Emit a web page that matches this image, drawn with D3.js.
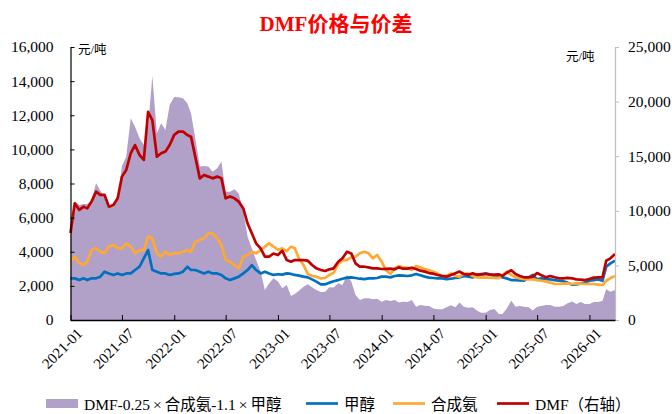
<!DOCTYPE html>
<html>
<head>
<meta charset="utf-8">
<script src="https://cdn.jsdelivr.net/npm/d3@7"></script>
<style>
  html, body { margin: 0; padding: 0; background: #fff; }
  svg { display: block; }
  text { font-family: "Liberation Serif", "Times New Roman", "Noto Sans CJK SC", serif; }
</style>
</head>
<body>
<svg id="chart" width="672" height="414"></svg>
<script>
// Semi-monthly sampling: 2021-01-01 ... 2026-04-01 (1st and 16th of each month)
const dates = [];
for (let y = 2021; y <= 2026; y++) {
  for (let mo = 0; mo < 12; mo++) {
    if (y === 2026 && mo > 3) break;
    dates.push(new Date(y, mo, 1));
    if (!(y === 2026 && mo === 3)) dates.push(new Date(y, mo, 16));
  }
}

// 甲醇 (元/吨, left axis)
const methanol = [
  2440,2440,2340,2440,2340,2440,2440,2540,2830,2730,2640,2730,
  2640,2730,2730,2930,3130,3610,4100,2930,2830,2730,2730,2640,
  2700,2730,2830,3120,2930,2930,2830,2730,2830,2730,2730,2640,
  2440,2340,2440,2540,2730,2930,3220,2930,2730,2830,2730,2640,
  2680,2660,2730,2700,2640,2600,2540,2500,2380,2250,2090,2090,
  2190,2270,2340,2420,2480,2500,2460,2420,2400,2440,2440,2460,
  2540,2540,2500,2580,2620,2600,2580,2620,2700,2620,2540,2480,
  2460,2440,2440,2400,2420,2460,2500,2580,2540,2500,2580,2660,
  2730,2660,2580,2560,2500,2440,2340,2340,2320,2300,2500,2640,
  2380,2440,2400,2380,2340,2300,2270,2190,2070,2090,2130,2190,
  2300,2340,2380,2300,3120,3320,3480
];

// 合成氨 (元/吨, left axis)
const ammonia = [
  3420,3710,3320,3220,3420,4100,4200,4000,3910,4300,4400,4200,
  4200,4490,4300,3910,4100,4100,4880,4790,3910,3710,4000,3810,
  3930,3910,4000,4100,4000,4590,4690,4790,5080,5080,4790,4400,
  3520,3420,3220,3030,3710,3810,4000,3910,4100,4300,4490,4300,
  4120,4200,4040,4300,4200,3610,3220,2700,2580,2540,2440,2460,
  2640,2770,3280,3480,3520,3670,3710,3910,4000,3910,3610,3810,
  3420,2910,2700,3030,3160,3090,3050,2930,3160,3090,2990,2910,
  2830,2720,2580,2600,2730,2580,2540,2700,2720,2580,2500,2480,
  2500,2480,2470,2450,2640,2830,2640,2500,2440,2400,2380,2380,
  2340,2300,2250,2190,2110,2110,2130,2150,2110,2150,2130,2110,
  2110,2110,2070,2050,2300,2460,2580
];

// DMF (元/吨, right axis)
const dmf = [
  7970,10690,10080,10380,10220,10840,11750,11450,11450,10380,10530,11140,
  13130,13730,15270,16020,15110,14660,19060,18310,14950,15270,15420,16020,
  16950,17250,17250,16940,16790,14950,12970,13280,13130,12970,13130,12970,
  11140,11300,11140,10840,10220,8850,7940,7020,6560,5800,5800,6090,
  5950,6350,5490,5340,5490,5490,5490,5430,5040,4730,4580,4490,
  4640,4730,5340,5650,6260,6100,5190,4880,4880,4820,4730,4730,
  4670,4690,4700,4640,4820,4700,4700,4790,4670,4520,4430,4300,
  4240,4120,4030,3970,4120,4270,4430,4210,4150,4270,4150,4210,
  4210,4180,4160,4180,4030,4330,4550,4210,4030,3910,3910,3970,
  4300,4090,3910,4030,3910,3820,3820,3850,3820,3720,3690,3660,
  3750,3880,3910,3910,5430,5650,6040
];

// DMF-0.25×合成氨-1.1×甲醇 (元/吨, left axis)
const spread = [
  4900,6940,6740,6800,6800,7030,8010,7580,7230,6640,6640,7030,
  9030,9570,11820,11330,10650,10260,11330,14300,10940,11530,11140,12600,
  13070,13050,12990,12700,12110,10650,8990,9030,8990,8690,8890,9280,
  7520,7520,7660,7420,6350,4890,4200,3520,2830,1760,2150,2440,
  2250,1860,2050,1410,1520,1720,1950,2090,1920,1760,1640,1660,
  1920,1900,2150,2050,2640,2250,1470,1170,1270,1270,1210,1250,
  1070,1170,1110,1170,1020,1070,1060,1170,780,880,840,820,
  680,630,630,740,860,740,1020,780,720,740,550,430,
  430,590,650,350,350,680,1130,780,820,780,740,550,
  780,820,880,880,780,780,820,980,1090,940,1060,940,
  940,1060,1060,1130,1800,1660,1760
];

const leftTicks = [0, 2000, 4000, 6000, 8000, 10000, 12000, 14000, 16000];
const rightTicks = [0, 5000, 10000, 15000, 20000, 25000];
const titleText = "DMF价格与价差";
const unitText = "元/吨";
const legendItems = [
  { label: "DMF-0.25×合成氨-1.1×甲醇", color: "#b1a0c7", kind: "area" },
  { label: "甲醇", color: "#0070c0", kind: "line" },
  { label: "合成氨", color: "#ffa933", kind: "line" },
  { label: "DMF（右轴）", color: "#c00000", kind: "line" }
];

const svg = d3.select("#chart");
const plot = { left: 70.5, right: 615, top: 47, bottom: 320 };
const axisFont = "Liberation Serif, Times New Roman, serif";

const x = d3.scaleTime()
  .domain([new Date(2021, 0, 1), new Date(2026, 3, 1)])
  .range([plot.left, plot.right]);
const yL = d3.scaleLinear().domain([0, 16000]).range([plot.bottom, plot.top]);
const yR = d3.scaleLinear().domain([0, 25000]).range([plot.bottom, plot.top]);

// Title
svg.append("text")
  .attr("x", 336).attr("y", 31)
  .attr("text-anchor", "middle")
  .attr("fill", "#ff0000")
  .attr("font-size", 21)
  .attr("font-weight", "bold")
  .text(titleText);

// Spread area
const area = d3.area()
  .x((d, i) => x(dates[i]))
  .y0(yL(0))
  .y1(d => yL(d));
svg.append("path")
  .datum(spread)
  .attr("d", area)
  .attr("fill", "#b1a0c7");

// Price lines
function drawLine(values, scale, color) {
  const line = d3.line()
    .x((d, i) => x(dates[i]))
    .y(d => scale(d));
  svg.append("path")
    .datum(values)
    .attr("d", line)
    .attr("fill", "none")
    .attr("stroke", color)
    .attr("stroke-width", 2.7)
    .attr("stroke-linejoin", "round");
}
drawLine(methanol, yL, "#0070c0");
drawLine(ammonia, yL, "#ffa933");
drawLine(dmf, yR, "#c00000");

// Left axis
const leftAxis = d3.axisLeft(yL)
  .tickValues(leftTicks)
  .tickSizeInner(-4)
  .tickSizeOuter(0)
  .tickPadding(17)
  .tickFormat(d3.format(","));
const gL = svg.append("g")
  .attr("transform", `translate(${plot.left},0)`)
  .call(leftAxis);
gL.select(".domain").attr("stroke", "#000").attr("stroke-width", 1.2);
gL.selectAll(".tick line").attr("stroke", "#000");
gL.selectAll("text").attr("font-size", 15.5).attr("fill", "#000")
  .attr("font-family", axisFont);

// Right axis
const rightAxis = d3.axisRight(yR)
  .tickValues(rightTicks)
  .tickSizeInner(4)
  .tickSizeOuter(0)
  .tickPadding(9)
  .tickFormat(d3.format(","));
const gR = svg.append("g")
  .attr("transform", `translate(${plot.right},0)`)
  .call(rightAxis);
gR.select(".domain").attr("stroke", "#bfbfbf").attr("stroke-width", 1.2);
gR.selectAll(".tick line").attr("stroke", "#bfbfbf");
gR.selectAll("text").attr("font-size", 15.5).attr("fill", "#000")
  .attr("font-family", axisFont);

// Bottom axis
const bottomAxis = d3.axisBottom(x)
  .ticks(d3.timeMonth.every(6))
  .tickSizeInner(-5)
  .tickSizeOuter(0)
  .tickFormat(d3.timeFormat("%Y-%m"));
const gB = svg.append("g")
  .attr("transform", `translate(0,${plot.bottom})`)
  .call(bottomAxis);
gB.select(".domain").attr("stroke", "#000").attr("stroke-width", 1.4);
gB.selectAll(".tick line").attr("stroke", "#000");
gB.selectAll("text")
  .attr("font-size", 15)
  .attr("fill", "#000")
  .attr("font-family", axisFont)
  .attr("text-anchor", "end")
  .attr("dy", null)
  .attr("transform", "translate(5,7) rotate(-45)")
  .attr("y", 0).attr("x", 0)
  .attr("dominant-baseline", "hanging");

// Unit labels
svg.append("text").attr("x", 78).attr("y", 54)
  .attr("font-size", 12.5).attr("fill", "#000").text(unitText);
svg.append("text").attr("x", 566).attr("y", 61)
  .attr("font-size", 12.5).attr("fill", "#000").text(unitText);

// Legend; the multiplication signs get a little extra room on each side
const legendX = [46, 306, 393, 497];
const legend = svg.append("g");
legendItems.forEach((item, i) => {
  const lx = legendX[i];
  if (item.kind === "area") {
    legend.append("rect").attr("x", lx).attr("y", 399).attr("width", 32).attr("height", 9)
      .attr("fill", item.color);
  } else {
    legend.append("line").attr("x1", lx).attr("x2", lx + 32)
      .attr("y1", 403.5).attr("y2", 403.5)
      .attr("stroke", item.color).attr("stroke-width", 2.7);
  }
  const t = legend.append("text").attr("x", lx + 38).attr("y", 409.5)
    .attr("font-size", 15.5).attr("fill", "#000");
  let afterTimes = false;
  item.label.split(/(×)/).forEach(part => {
    if (!part) return;
    const span = t.append("tspan").text(part);
    if (part === "×") {
      span.attr("dx", 3);
      afterTimes = true;
    } else if (afterTimes) {
      span.attr("dx", 3);
      afterTimes = false;
    }
  });
});
</script>
</body>
</html>
